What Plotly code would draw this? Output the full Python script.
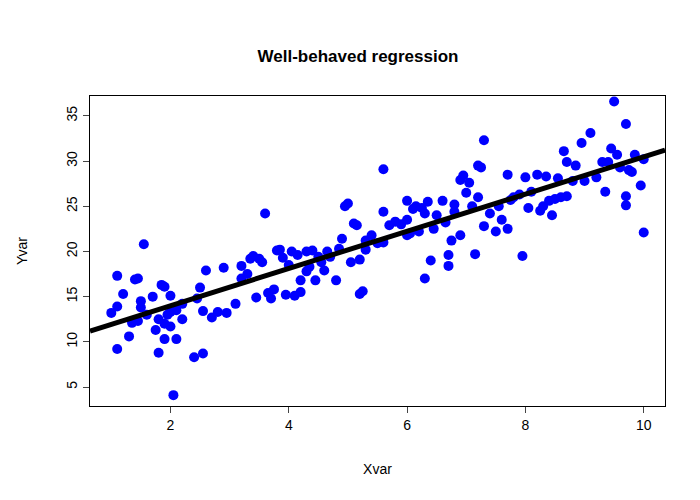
import numpy as np
import plotly.graph_objects as go

# points
pts = [
    (1.0,13.2),(1.1,13.9),(1.1,9.2),(1.1,17.3),(1.2,15.3),(1.3,10.6),(1.35,12.1),(1.4,16.9),
    (1.45,17.0),(1.45,12.3),(1.5,14.5),(1.5,13.8),(1.55,20.8),(1.6,13.0),(1.7,15.0),(1.75,11.3),
    (1.8,8.8),(1.8,12.5),(1.85,16.3),(1.9,10.3),(1.9,16.1),(1.9,12.0),(1.95,13.0),(2.0,13.3),
    (2.0,11.7),(2.0,15.1),(2.05,4.1),(2.1,10.3),(2.1,13.5),(2.2,12.5),(2.2,14.2),
    (2.4,8.3),(2.45,14.8),(2.5,16.0),(2.55,8.7),(2.55,13.4),(2.6,17.9),(2.7,12.7),(2.8,13.3),
    (2.9,18.2),(2.95,13.2),(3.1,14.2),(3.2,17.0),(3.2,18.4),(3.3,17.5),(3.35,19.2),(3.4,19.5),
    (3.45,14.9),(3.5,19.2),(3.55,18.8),(3.6,24.2),(3.65,15.4),(3.7,14.8),(3.75,15.8),(3.8,20.1),
    (3.85,20.2),(3.9,19.3),(3.95,15.2),(4.0,18.5),(4.05,20.0),(4.1,15.1),(4.15,19.6),(4.2,16.8),
    (4.2,15.5),(4.3,20.0),(4.3,17.8),(4.35,18.3),(4.4,20.1),(4.45,16.8),(4.5,19.4),(4.55,18.8),
    (4.6,17.9),(4.65,20.0),(4.7,19.4),(4.8,16.8),(4.85,20.3),(4.9,21.4),(4.95,25.0),(5.0,25.3),
    (5.05,18.8),(5.1,23.1),(5.15,22.9),(5.2,19.1),(5.2,15.3),(5.25,15.6),(5.3,21.2),(5.3,20.2),
    (5.4,21.8),(5.5,20.9),(5.6,21.0),(5.6,29.1),(5.6,24.4),(5.7,22.9),(5.8,23.3),(5.9,23.0),
    (6.0,25.6),(6.0,23.5),(6.0,21.8),(6.05,22.0),(6.1,24.7),(6.15,25.0),(6.2,22.2),(6.25,24.8),
    (6.3,17.0),(6.3,24.2),(6.35,25.5),(6.4,19.0),(6.45,22.5),(6.5,24.0),(6.6,25.6),(6.65,23.2),
    (6.7,18.4),(6.7,19.6),(6.75,21.2),(6.8,24.4),(6.8,25.2),(6.9,21.8),(6.9,27.9),(6.95,28.4),
    (7.0,26.5),(7.05,27.6),(7.1,25.0),(7.15,19.7),(7.2,29.5),(7.2,26.0),(7.25,29.3),(7.3,32.3),
    (7.3,22.8),(7.4,24.2),(7.5,22.2),(7.55,25.0),(7.6,23.5),(7.7,22.5),(7.7,28.5),(7.75,25.7),
    (7.8,26.0),(7.9,26.3),(7.95,19.5),(8.0,28.2),(8.05,24.8),(8.1,26.6),(8.2,28.5),(8.25,24.5),
    (8.3,25.0),(8.35,28.3),(8.4,25.6),(8.45,24.0),(8.5,25.8),(8.55,28.1),(8.6,26.0),(8.65,31.1),
    (8.7,26.1),(8.7,29.9),(8.8,27.8),(8.85,29.5),(8.95,32.0),(9.0,27.8),(9.1,33.1),(9.2,28.2),
    (9.3,29.9),(9.35,26.6),(9.4,29.9),(9.45,31.4),(9.5,36.6),(9.55,30.7),(9.6,29.3),(9.7,26.1),
    (9.7,25.1),(9.7,34.1),(9.75,29.0),(9.8,28.8),(9.85,30.7),(9.95,27.3),(10.0,22.1),(10.0,30.2),
]
xvar = [p[0] for p in pts]
yvar = [p[1] for p in pts]

# regression line (as abline across the whole plot)
x_range = [0.64, 10.36]
y_range = [2.9, 37.2]
slope, intercept = np.polyfit(xvar, yvar, 1)
line_x = np.array(x_range)
line_y = intercept + slope * line_x

fig = go.Figure()
fig.add_trace(go.Scatter(x=xvar, y=yvar, mode="markers",
                         marker=dict(color="#0000FF", size=10, line=dict(width=0))))
fig.add_trace(go.Scatter(x=line_x, y=line_y, mode="lines",
                         line=dict(color="black", width=5)))

axis = dict(showline=True, linecolor="black", linewidth=1, mirror=True, automargin=False,
            ticks="outside", ticklen=6, showgrid=False, zeroline=False,
            tickfont=dict(family="Liberation Sans, Arial", size=14, color="black"))
fig.update_layout(
    width=700, height=500, showlegend=False,
    plot_bgcolor="white", paper_bgcolor="white",
    margin=dict(l=82, r=43, t=88, b=102),
    title=dict(text="<b>Well-behaved regression</b>", x=0.5, xanchor="center", y=0.915,
               font=dict(family="Liberation Sans, Arial", size=17, color="black")),
    font=dict(family="Liberation Sans, Arial", color="black"),
)
fig.update_xaxes(**axis, range=x_range, tickvals=[2, 4, 6, 8, 10],
                 title=dict(text="Xvar", font=dict(size=14), standoff=32))
fig.update_yaxes(**axis, range=y_range, tickvals=[5, 10, 15, 20, 25, 30, 35], tickangle=-90,
                 title=dict(text="Yvar", font=dict(size=14), standoff=33))

fig.write_html("out.html")
